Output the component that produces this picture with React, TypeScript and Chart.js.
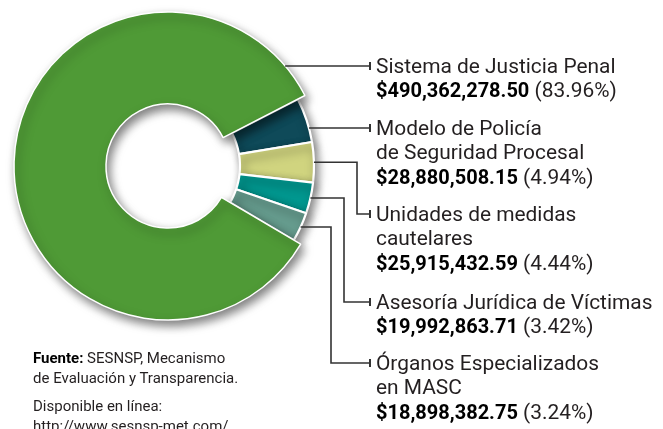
import React, { useEffect, useRef } from 'react';
import { Chart, registerables } from 'chart.js';

Chart.register(...registerables);

// ---- Data ----
const categories = [
  'Sistema de Justicia Penal',
  'Modelo de Policía de Seguridad Procesal',
  'Unidades de medidas cautelares',
  'Asesoría Jurídica de Víctimas',
  'Órganos Especializados en MASC',
];
const labelLines = [
  ['Sistema de Justicia Penal'],
  ['Modelo de Policía', 'de Seguridad Procesal'],
  ['Unidades de medidas', 'cautelares'],
  ['Asesoría Jurídica de Víctimas'],
  ['Órganos Especializados', 'en MASC'],
];
const amounts = [490362278.5, 28880508.15, 25915432.59, 19992863.71, 18898382.75];
const percents = ['83.96%', '4.94%', '4.44%', '3.42%', '3.24%'];
const colors = ['#4f9a36', '#0f4a59', '#d0d47f', '#00978f', '#669c8e'];

// ---- Layout ----
const CX = 168;
const CY = 166;
const MAIN_OUTER = 154;
const MAIN_INNER = 62;
const SMALL_OUTER = 146;
const SMALL_INNER = 72;
const W0 = 4;
const W1 = 1;
const A = W0 / (W0 + W1);
const R0 = MAIN_OUTER;
const C0 = 1 - (MAIN_OUTER - MAIN_INNER) / (A * MAIN_OUTER);
const R1 = (SMALL_OUTER - SMALL_INNER * A) / (1 - A);
const C1 = SMALL_INNER / R1;
const ROTATION = 120.5;

const LABEL_X = 376;
const TICK_X = 370;
const LINE_H = 24.5;
const anchorY = [66, 128, 214, 302, 363];
const elbowX: (number | null)[] = [null, null, 357, 344, 331];

const fmt = (v: number) =>
  '$' + v.toLocaleString('en-US', { minimumFractionDigits: 2, maximumFractionDigits: 2 });

const TRANSPARENT = 'rgba(0,0,0,0)';

const shadowPlugin = {
  id: 'ringShadow',
  beforeDatasetDraw(chart: any) {
    const ctx = chart.ctx;
    ctx.save();
    ctx.shadowColor = 'rgba(0,0,0,0.5)';
    ctx.shadowBlur = 10;
    ctx.shadowOffsetX = 3;
    ctx.shadowOffsetY = 5;
  },
  afterDatasetDraw(chart: any) {
    chart.ctx.restore();
  },
};

const leaderPlugin = {
  id: 'leaders',
  afterDraw(chart: any) {
    const ctx = chart.ctx;
    const main = chart.getDatasetMeta(0).data;
    const small = chart.getDatasetMeta(1).data;
    ctx.save();
    ctx.strokeStyle = '#333333';
    ctx.fillStyle = '#333333';
    ctx.lineWidth = 1.6;
    for (let i = 0; i < categories.length; i++) {
      const ay = anchorY[i];
      const arc = i === 0 ? main[0] : small[i];
      const p = arc.getProps(['x', 'y', 'startAngle', 'endAngle', 'outerRadius'], true);
      let pts: number[][];
      const ex = elbowX[i];
      if (ex == null) {
        const dy = ay - p.y;
        const sx = p.x + Math.sqrt(Math.max(p.outerRadius * p.outerRadius - dy * dy, 0));
        pts = [[sx, ay], [TICK_X, ay]];
      } else {
        const mid = (p.startAngle + p.endAngle) / 2;
        const sx = p.x + Math.cos(mid) * p.outerRadius;
        const sy = p.y + Math.sin(mid) * p.outerRadius;
        pts = [[sx, sy], [ex, sy], [ex, ay], [TICK_X, ay]];
      }
      ctx.beginPath();
      ctx.moveTo(pts[0][0], pts[0][1]);
      for (let k = 1; k < pts.length; k++) ctx.lineTo(pts[k][0], pts[k][1]);
      ctx.stroke();
      ctx.fillRect(TICK_X - 1, ay - 4, 2, 8);
    }
    ctx.restore();
  },
};

export default function App() {
  const ref = useRef<HTMLCanvasElement | null>(null);

  useEffect(() => {
    if (!ref.current) return;
    const chart = new Chart(ref.current, {
      type: 'doughnut',
      data: {
        labels: categories,
        datasets: [
          {
            data: amounts,
            backgroundColor: colors.map((c, i) => (i === 0 ? c : TRANSPARENT)),
            borderColor: colors.map((c, i) => (i === 0 ? '#ffffff' : TRANSPARENT)),
            borderWidth: colors.map((c, i) => (i === 0 ? 1.5 : 0)),
            weight: W0,
            radius: R0,
            cutout: (C0 * 100).toFixed(4) + '%',
            rotation: ROTATION,
            clip: false,
          } as any,
          {
            data: amounts,
            backgroundColor: colors.map((c, i) => (i === 0 ? TRANSPARENT : c)),
            borderColor: colors.map((c, i) => (i === 0 ? TRANSPARENT : '#ffffff')),
            borderWidth: colors.map((c, i) => (i === 0 ? 0 : 2.2)),
            weight: W1,
            radius: R1,
            cutout: (C1 * 100).toFixed(4) + '%',
            rotation: ROTATION,
            clip: false,
          } as any,
        ],
      },
      options: {
        animation: false,
        responsive: false,
        maintainAspectRatio: false,
        events: [],
        layout: { padding: { left: 0, top: 0, right: 663 - CX * 2, bottom: 429 - CY * 2 } },
        plugins: {
          legend: { display: false },
          tooltip: { enabled: false },
        },
      } as any,
      plugins: [shadowPlugin, leaderPlugin],
    });
    return () => chart.destroy();
  }, []);

  const textColor = '#231f20';

  return (
    <div
      style={{
        position: 'absolute',
        left: 0,
        top: 0,
        width: 663,
        height: 429,
        overflow: 'hidden',
        background: '#ffffff',
        fontFamily: 'Roboto, "Liberation Sans", sans-serif',
      }}
    >
      <canvas ref={ref} width={663} height={429} style={{ position: 'absolute', left: 0, top: 0 }} />
      {categories.map((c, i) => (
        <div
          key={c}
          style={{
            position: 'absolute',
            left: LABEL_X,
            top: anchorY[i] - LINE_H / 2,
            fontSize: 20.9,
            lineHeight: LINE_H + 'px',
            color: textColor,
            whiteSpace: 'nowrap',
          }}
        >
          {labelLines[i].map((l) => (
            <div key={l}>{l}</div>
          ))}
          <div>
            <span style={{ fontWeight: 700, color: '#000', fontSize: 20 }}>{fmt(amounts[i])}</span> ({percents[i]})
          </div>
        </div>
      ))}
      <div
        style={{
          position: 'absolute',
          left: 33,
          top: 348,
          fontSize: 15,
          lineHeight: '20px',
          color: textColor,
          whiteSpace: 'nowrap',
        }}
      >
        <div>
          <span style={{ fontWeight: 700, color: '#000' }}>Fuente:</span> SESNSP, Mecanismo
        </div>
        <div>de Evaluación y Transparencia.</div>
        <div style={{ marginTop: 8 }}>Disponible en línea:</div>
        <div>http://www.sesnsp-met.com/.</div>
      </div>
    </div>
  );
}
